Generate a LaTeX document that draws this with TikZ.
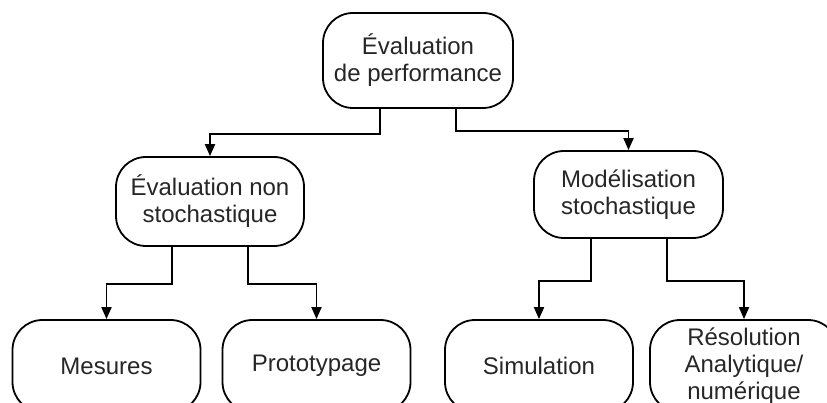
\documentclass[tikz,border=0pt]{standalone}
\usepackage{fontspec}
\setmainfont{Liberation Sans}
\usetikzlibrary{arrows.meta}
\begin{document}
\begin{tikzpicture}[x=1pt,y=-1pt,
  box/.style={draw, line width=1.8pt, rounded corners=30pt, align=center, inner sep=0pt,
    text=black!85, font=\fontsize{24}{27}\selectfont},
  arr/.style={line width=1.8pt, -{Triangle[length=12pt,width=10pt]}}]
\clip (0,0) rectangle (827,403);
\useasboundingbox (0,0) rectangle (827,403);
\node[box, minimum width=190pt, minimum height=95pt] (top) at (418,60.5) {Évaluation\\de performance};
\node[box, minimum width=188pt, minimum height=89pt] (midL) at (210,201.5) {Évaluation non\\stochastique};
\node[box, minimum width=189pt, minimum height=87pt] (midR) at (628.5,194.5) {Modélisation\\stochastique};
\node[box, minimum width=188pt, minimum height=92pt] (mes) at (106.5,366) {Mesures};
\node[box, minimum width=188pt, minimum height=92pt] (proto) at (316.5,366) {Prototypage};
\node[box, minimum width=188pt, minimum height=92pt] (simu) at (539,366) {Simulation};
\node[box, minimum width=188pt, minimum height=92pt] (reso) at (744,366) {Résolution\\Analytique/\\numérique};
\draw[arr] ([xshift=-38pt]top.south) -- ++(0,25) -| (midL.north);
\draw[arr] ([xshift=38pt]top.south) -- ++(0,22) -| (midR.north);
\draw[arr] ([xshift=-38pt]midL.south) -- ++(0,37) -| (mes.north);
\draw[arr] ([xshift=38pt]midL.south) -- ++(0,37) -| (proto.north);
\draw[arr] ([xshift=-37.5pt]midR.south) -- ++(0,42) -| (simu.north);
\draw[arr] ([xshift=38.5pt]midR.south) -- ++(0,42) -| (reso.north);
\end{tikzpicture}
\end{document}
